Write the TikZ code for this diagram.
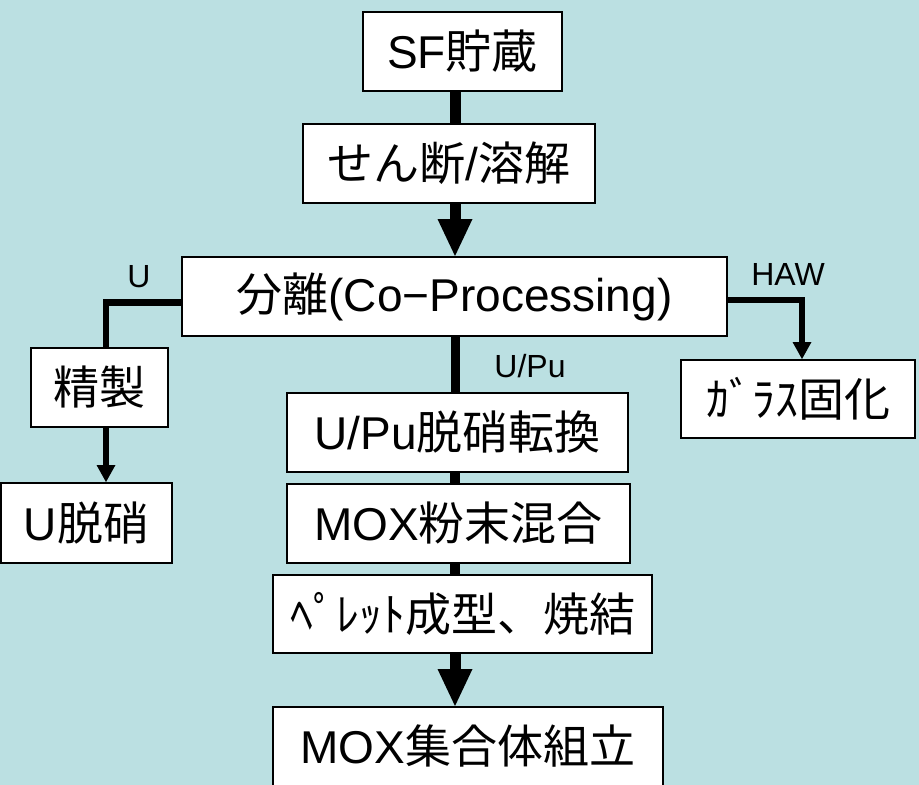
\documentclass[tikz,border=0pt]{standalone}
\usepackage{fontspec}
\setmainfont{Liberation Sans}
\newfontfamily\jp{Noto Sans CJK JP}
\usetikzlibrary{arrows.meta}
\definecolor{bg}{RGB}{187,224,226}
\begin{document}
\begin{tikzpicture}[x=1pt,y=-1pt,
  box/.style={draw=black,fill=white,line width=2pt,inner sep=0pt,
    font=\fontsize{46}{50}\selectfont},
  lbl/.style={font=\fontsize{32}{36}\selectfont,inner sep=0pt,anchor=base},
  bigtip/.style={-{Triangle[width=35pt 0,length=37pt 0,line width=0pt]}},
  smalltip/.style={-{Triangle[width=19pt 0,length=17pt 0,line width=0pt]}},
  line join=miter]
\useasboundingbox (0,0) rectangle (919,785);
\fill[bg] (0,0) rectangle (919,785);

% boxes
\node[box,minimum width=199pt,minimum height=79pt] (sf) at (462.5,51.5) {SF{\jp 貯蔵}};
\node[box,minimum width=292pt,minimum height=79pt] (cut) at (449,163.5) {{\jp せん断}/{\jp 溶解}};
\node[box,minimum width=545pt,minimum height=79pt] (sep) at (454.5,296.5) {{\jp 分離}(Co−Processing)};
\node[box,minimum width=137pt,minimum height=79pt] (ref) at (99.5,387.5) {{\jp 精製}};
\node[box,minimum width=171pt,minimum height=80pt] (ud) at (86.5,523) {U{\jp 脱硝}};
\node[box,minimum width=234pt,minimum height=78pt] (glass) at (798,399) {{\jp ｶﾞﾗｽ固化}};
\node[box,minimum width=341pt,minimum height=79pt] (upu) at (457.5,432.5) {U/Pu{\jp 脱硝転換}};
\node[box,minimum width=343pt,minimum height=79pt] (mox) at (458.5,523.5) {MOX{\jp 粉末混合}};
\node[box,minimum width=379pt,minimum height=78pt] (pel) at (462.5,614) {{\jp ﾍﾟﾚｯﾄ成型、焼結}};
\node[box,minimum width=390pt,minimum height=79pt] (asm) at (468,746.5) {MOX{\jp 集合体組立}};

% labels
\node[lbl] (ul) at (139,287) {U};
\node[lbl] (hl) at (788,285) {HAW};
\node[lbl] (pl) at (530,377) {U/Pu};

% spine connectors
\coordinate (sp) at (455,0);
\draw[line width=11pt] (sf.south -| sp) -- (cut.north -| sp);
\draw[line width=11pt,bigtip] (cut.south -| sp) -- (sep.north -| sp);
\draw[line width=9pt] (sep.south -| sp) -- (upu.north -| sp);
\draw[line width=10pt] (upu.south -| sp) -- (mox.north -| sp);
\draw[line width=10pt] (mox.south -| sp) -- (pel.north -| sp);
\draw[line width=11pt,bigtip] (pel.south -| sp) -- (asm.north -| sp);

% U branch
\coordinate (ub) at (106,302.5);
\draw[line width=6.5pt] (ub -| sep.west) -- (ub) -- (ub |- ref.north);
\draw[line width=6pt,smalltip] (ref.south -| ub) -- (ud.north -| ub);

% HAW branch
\coordinate (hb) at (802,299.5);
\draw[line width=6pt,smalltip] (hb -| sep.east) -- (hb) -- (hb |- glass.north);
\end{tikzpicture}
\end{document}
